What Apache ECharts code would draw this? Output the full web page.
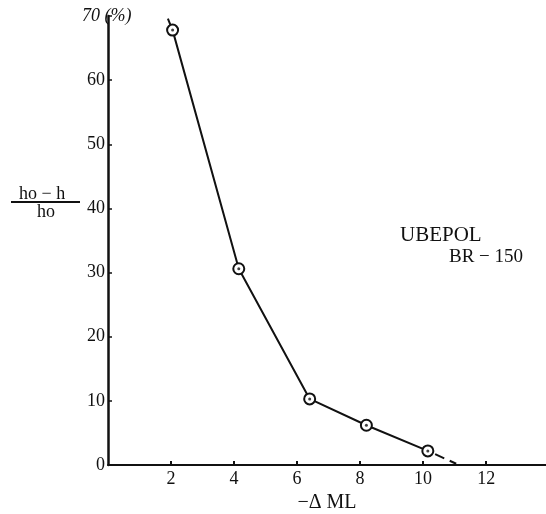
<!DOCTYPE html>
<html>
<head>
<meta charset="utf-8">
<script src="https://cdn.jsdelivr.net/npm/echarts@6/dist/echarts.min.js"></script>
<style>
  html, body { margin: 0; padding: 0; background: #fff; }
  #chart { width: 546px; height: 514px; }
</style>
</head>
<body>
<div id="chart"></div>
<script>
// -ΔML vs (ho - h)/ho in %
var dML = [2.05, 4.15, 6.4, 8.2, 10.15]
var ratio = [67.8, 30.6, 10.3, 6.2, 2.2]
// dashed extrapolation past the last point
var tailX = [10.15, 11.05]
var tailY = [2.2, 0.2]
// short run of the line above the first point
var headX = [1.9, 2.05]
var headY = [69.6, 67.8]
var xTicks = [2, 4, 6, 8, 10, 12]
var yTicks = [0, 10, 20, 30, 40, 50, 60, 70]

var serif = '"Liberation Serif", "DejaVu Serif", serif'
var ink = '#111'

function pairs (xs, ys) {
  return xs.map(function (x, i) { return [x, ys[i]] })
}

let options = {
  animation: false,
  grid: {
    top: 16,
    bottom: 49,
    left: 108,
    right: 0,
    outerBoundsMode: 'none'
  },
  xAxis: {
    type: 'value',
    min: 0,
    max: 13.9,
    interval: 2,
    name: '−Δ ML',
    nameLocation: 'middle',
    nameGap: 23,
    nameTextStyle: { color: ink, fontFamily: serif, fontSize: 20 },
    axisLine: { lineStyle: { color: ink, width: 2 } },
    axisTick: { inside: true, length: 4, lineStyle: { color: ink, width: 2 } },
    axisLabel: {
      color: ink,
      fontFamily: serif,
      fontSize: 18,
      margin: 5,
      showMinLabel: false,
      showMaxLabel: false,
      formatter: function (v) { return xTicks.indexOf(v) >= 0 ? String(v) : '' }
    },
    splitLine: { show: false }
  },
  yAxis: {
    type: 'value',
    min: 0,
    max: 70,
    interval: 10,
    name: '70 (%)',
    nameLocation: 'end',
    nameGap: 0,
    nameTextStyle: { color: ink, fontFamily: serif, fontSize: 18, fontStyle: 'italic', verticalAlign: 'middle', align: 'left', padding: [0, 0, 0, -26] },
    axisLine: { lineStyle: { color: ink, width: 2.5 } },
    axisTick: { inside: true, length: 4, lineStyle: { color: ink, width: 1.5 } },
    axisLabel: {
      color: ink,
      fontFamily: serif,
      fontSize: 18,
      margin: 3,
      formatter: function (v) { return v === 70 || yTicks.indexOf(v) < 0 ? '' : String(v) }
    },
    splitLine: { show: false }
  },
  series: [
    {
      type: 'line',
      data: pairs(headX, headY),
      symbol: 'none',
      lineStyle: { color: ink, width: 2 }
    },
    {
      type: 'line',
      data: pairs(dML, ratio),
      symbol: 'emptyCircle',
      symbolSize: 11,
      itemStyle: { color: ink, borderColor: ink, borderWidth: 2.5 },
      lineStyle: { color: ink, width: 2 }
    },
    {
      type: 'scatter',
      data: pairs(dML, ratio),
      symbol: 'circle',
      symbolSize: 3,
      z: 10,
      itemStyle: { color: ink }
    },
    {
      type: 'line',
      data: pairs(tailX, tailY),
      symbol: 'none',
      lineStyle: { color: ink, width: 2, type: [10, 6], dashOffset: -8 }
    }
  ],
  graphic: [
    {
      type: 'text', left: 19, top: 185,
      style: { text: 'ho − h', fill: ink, font: '18px ' + serif }
    },
    {
      type: 'line',
      shape: { x1: 11, y1: 202, x2: 80, y2: 202 },
      style: { stroke: ink, lineWidth: 2 }
    },
    {
      type: 'text', left: 37, top: 203,
      style: { text: 'ho', fill: ink, font: '18px ' + serif }
    },
    {
      type: 'text', left: 400, top: 225,
      style: { text: 'UBEPOL', fill: ink, font: '21px ' + serif }
    },
    {
      type: 'text', left: 449, top: 248,
      style: { text: 'BR − 150', fill: ink, font: '19px ' + serif }
    }
  ]
}

let myChart = echarts.init(document.getElementById('chart'))
myChart.setOption(options)
</script>
</body>
</html>
